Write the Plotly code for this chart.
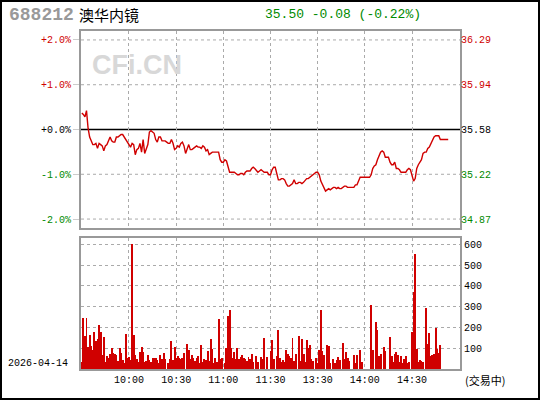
import plotly.graph_objects as go

# ---------------- data ----------------
prev_close = 35.58
stock_code = "688212"
stock_name = "澳华内镜"
quote_text = "35.50 -0.08 (-0.22%)"
date_text = "2026-04-14"
status_text = "(交易中)"

prices = [
    35.71, 35.70, 35.68, 35.73, 35.59, 35.52, 35.49, 35.46, 35.46, 35.47,
    35.43, 35.47, 35.46, 35.45, 35.41, 35.45, 35.46, 35.50, 35.52, 35.49,
    35.48, 35.48, 35.52, 35.52, 35.53, 35.54, 35.54, 35.52, 35.51, 35.48,
    35.46, 35.44, 35.47, 35.46, 35.38, 35.42, 35.43, 35.47, 35.40, 35.50,
    35.39, 35.42, 35.46, 35.56, 35.57, 35.56, 35.55, 35.50, 35.48, 35.52,
    35.52, 35.49, 35.49, 35.49, 35.48, 35.47, 35.47, 35.50, 35.47, 35.42,
    35.43, 35.45, 35.44, 35.47, 35.48, 35.45, 35.39, 35.42, 35.46, 35.42,
    35.42, 35.43, 35.44, 35.45, 35.44, 35.44, 35.43, 35.45, 35.44, 35.41,
    35.42, 35.38, 35.39, 35.40, 35.40, 35.40, 35.40, 35.40, 35.34, 35.32,
    35.32, 35.34, 35.33, 35.28, 35.24, 35.24, 35.24, 35.24, 35.23, 35.22,
    35.22, 35.23, 35.23, 35.22, 35.24, 35.25, 35.25, 35.25, 35.27, 35.28,
    35.27, 35.25, 35.24, 35.25, 35.26, 35.25, 35.24, 35.24, 35.24, 35.22,
    35.22, 35.26, 35.28, 35.28, 35.22, 35.18, 35.18, 35.19, 35.19, 35.18,
    35.15, 35.13, 35.13, 35.14, 35.15, 35.18, 35.15, 35.15, 35.16, 35.16,
    35.15, 35.16, 35.18, 35.19, 35.19, 35.20, 35.21, 35.22, 35.23, 35.24,
    35.24, 35.22, 35.17, 35.14, 35.11, 35.09, 35.10, 35.11, 35.10, 35.11,
    35.12, 35.12, 35.11, 35.12, 35.11, 35.11, 35.12, 35.13, 35.13, 35.12,
    35.12, 35.12, 35.12, 35.12, 35.14, 35.14, 35.17, 35.20, 35.20, 35.20,
    35.20, 35.20, 35.20, 35.20, 35.22, 35.27, 35.29, 35.30, 35.34, 35.38,
    35.40, 35.41, 35.40, 35.36, 35.36, 35.36, 35.32, 35.30, 35.30, 35.32,
    35.27, 35.27, 35.26, 35.24, 35.24, 35.24, 35.24, 35.26, 35.27, 35.26,
    35.22, 35.17, 35.19, 35.27, 35.30, 35.32, 35.34, 35.39, 35.40, 35.40,
    35.43, 35.44, 35.47, 35.50, 35.52, 35.53, 35.53, 35.53, 35.50, 35.50,
    35.50, 35.50, 35.50, 35.50,
]

volumes = [
    34, 245, 157, 245, 106, 162, 112, 91, 178, 133,
    144, 210, 178, 67, 154, 34, 62, 53, 72, 101,
    77, 72, 67, 38, 101, 77, 43, 29, 168, 53,
    58, 43, 600, 163, 67, 48, 34, 82, 106, 82,
    34, 38, 67, 43, 34, 53, 53, 53, 43, 29,
    67, 48, 77, 48, 0, 29, 48, 134, 43, 106,
    53, 62, 53, 48, 53, 77, 0, 120, 91, 48,
    67, 53, 38, 53, 62, 29, 115, 34, 48, 43,
    86, 38, 144, 96, 29, 53, 34, 240, 48, 53,
    0, 29, 101, 254, 283, 101, 53, 82, 48, 101,
    48, 58, 67, 53, 48, 38, 58, 48, 72, 34,
    0, 62, 34, 0, 58, 48, 149, 0, 58, 0,
    86, 139, 48, 0, 62, 187, 53, 34, 43, 34,
    91, 72, 62, 53, 149, 38, 72, 0, 158, 38,
    144, 72, 34, 139, 101, 115, 48, 38, 0, 53,
    29, 91, 283, 86, 67, 0, 115, 110, 29, 0,
    48, 29, 43, 58, 43, 0, 125, 48, 82, 53,
    38, 0, 0, 67, 29, 67, 0, 91, 34, 0,
    0, 0, 0, 0, 307, 91, 0, 226, 187, 62,
    72, 0, 106, 86, 0, 0, 154, 62, 34, 72,
    82, 67, 34, 62, 29, 48, 62, 29, 34, 0,
    178, 370, 552, 96, 34, 43, 38, 34, 0, 293,
    120, 173, 62, 67, 72, 197, 96, 77, 115,
]

price_minutes = list(range(len(prices)))
volume_minutes = list(range(len(volumes)))

time_ticks = [30, 60, 90, 120, 150, 180, 210]
time_labels = ["10:00", "10:30", "11:00", "11:30", "13:30", "14:00", "14:30"]
pct_ticks = [-2, -1, 0, 1, 2]
pct_labels = ["-2.0%", "-1.0%", "+0.0%", "+1.0%", "+2.0%"]
price_labels = ["34.87", "35.22", "35.58", "35.94", "36.29"]
vol_ticks = [100, 200, 300, 400, 500, 600]
vol_labels = ["100", "200", "300", "400", "500", "600"]

# ---------------- styles ----------------
RED = "#d00000"
GREEN = "#008a00"
BLACK = "#000000"
GRID = "#aaaaaa"
FRAME = "#999999"
MONO = "Liberation Mono, DejaVu Sans Mono, monospace"

W, H = 540, 400
L, R, T, B = 81, 80, 31, 31
PW, PH = W - L - R, H - T - B


def px2x(px):
    return (px - L) / PW


def py2y(py):
    return (H - B - py) / PH


def colour_for(i):
    return [GREEN, GREEN, BLACK, RED, RED][i]


pct_text = [f'<span style="color:{colour_for(i)}">{t}</span>' for i, t in enumerate(pct_labels)]
price_text = [f'<span style="color:{colour_for(i)}">{t}</span>' for i, t in enumerate(price_labels)]
price_vals = [prev_close * (1 + p / 100) for p in pct_ticks]

pct_range = [-2.2, 2.2]
price_range = [prev_close * (1 + pct_range[0] / 100), prev_close * (1 + pct_range[1] / 100)]

fig = go.Figure()

fig.add_trace(go.Scatter(x=[None], y=[None], xaxis="x", yaxis="y", showlegend=False, hoverinfo="skip"))

fig.add_trace(go.Scatter(
    x=price_minutes, y=prices, xaxis="x", yaxis="y3", mode="lines",
    line=dict(color=RED, width=1.4), showlegend=False, hoverinfo="skip",
))

fig.add_trace(go.Bar(
    x=volume_minutes, y=volumes, xaxis="x2", yaxis="y2",
    marker=dict(color=RED, line=dict(width=0)), width=0.62,
    showlegend=False, hoverinfo="skip",
))

price_dom = [py2y(228), 1.0]
vol_dom = [0.0, py2y(238)]
x_range = [-0.5, 240.5]

axis_common = dict(showline=True, linecolor=FRAME, linewidth=2, mirror=True, zeroline=False,
                   fixedrange=True)

fig.update_layout(
    width=W, height=H,
    margin=dict(l=L, r=R, t=T, b=B, autoexpand=False),
    paper_bgcolor="white", plot_bgcolor="white",
    font=dict(family=MONO, size=10, color=BLACK),
    bargap=0,
    xaxis=dict(domain=[0, 1], range=x_range, anchor="y", tickvals=time_ticks,
               showticklabels=False, showgrid=True, gridcolor=GRID, griddash="dot",
               gridwidth=1, ticks="", **axis_common),
    yaxis=dict(domain=price_dom, range=pct_range, anchor="x", side="left",
               tickvals=pct_ticks, ticktext=pct_text, showgrid=False,
               ticks="outside", ticklen=6, tickcolor="#cccccc",
               tickfont=dict(family=MONO, size=10), **axis_common),
    yaxis3=dict(range=price_range, overlaying="y", anchor="x", side="right",
                tickvals=price_vals, ticktext=price_text, showgrid=False, ticks="",
                tickfont=dict(family=MONO, size=10), showline=False, zeroline=False,
                fixedrange=True),
    xaxis2=dict(domain=[0, 1], range=x_range, anchor="y2", tickvals=time_ticks,
                ticktext=time_labels, showgrid=True, gridcolor=GRID, griddash="dot",
                gridwidth=1, ticks="", tickfont=dict(family=MONO, size=10), **axis_common),
    yaxis2=dict(domain=vol_dom, range=[0, 630], anchor="x2", side="right",
                tickvals=vol_ticks, ticktext=vol_labels, showgrid=True, gridcolor=GRID,
                griddash="dot", gridwidth=1, ticks="",
                tickfont=dict(family=MONO, size=10), **axis_common),
)

# horizontal percent grid lines (dotted) and previous-close line (solid black)
for p in pct_ticks:
    if p == 0:
        fig.add_shape(type="line", xref="x", yref="y", x0=x_range[0], x1=x_range[1], y0=0, y1=0,
                      line=dict(color=BLACK, width=1.3), layer="below")
    else:
        fig.add_shape(type="line", xref="x", yref="y", x0=x_range[0], x1=x_range[1], y0=p, y1=p,
                      line=dict(color=GRID, width=1, dash="dot"), layer="below")

# outer black border
fig.add_shape(type="rect", xref="paper", yref="paper",
              x0=px2x(1), x1=px2x(539), y0=py2y(399), y1=py2y(1),
              line=dict(color=BLACK, width=2), fillcolor="rgba(0,0,0,0)")

# header texts
fig.add_annotation(xref="paper", yref="paper", x=px2x(7), y=py2y(15), xanchor="left", yanchor="middle",
                   text=f"<b>{stock_code}</b>", showarrow=False,
                   font=dict(family=MONO, size=18, color="#999999"))
fig.add_annotation(xref="paper", yref="paper", x=px2x(77), y=py2y(15), xanchor="left", yanchor="middle",
                   text=stock_name, showarrow=False,
                   font=dict(family="Noto Sans CJK SC", size=15, color=BLACK))
fig.add_annotation(xref="paper", yref="paper", x=px2x(263), y=py2y(15), xanchor="left", yanchor="middle",
                   text=quote_text, showarrow=False,
                   font=dict(family=MONO, size=13, color=GREEN))

# watermark
fig.add_annotation(xref="paper", yref="paper", x=px2x(90), y=py2y(65), xanchor="left", yanchor="middle",
                   text="<b>CFi.CN</b>", showarrow=False,
                   font=dict(family="Liberation Sans, Arial", size=27, color="#d8d8d8"))

# date and status
fig.add_annotation(xref="paper", yref="paper", x=px2x(6), y=py2y(363), xanchor="left", yanchor="middle",
                   text=date_text, showarrow=False, font=dict(family=MONO, size=10, color=BLACK))
fig.add_annotation(xref="paper", yref="paper", x=px2x(463), y=py2y(380), xanchor="left", yanchor="middle",
                   text=status_text, showarrow=False,
                   font=dict(family="Noto Sans CJK SC", size=11, color=BLACK))

fig.write_html("out.html", config={"displayModeBar": False},
               post_script="document.body.style.margin='0';document.body.style.padding='0';")
